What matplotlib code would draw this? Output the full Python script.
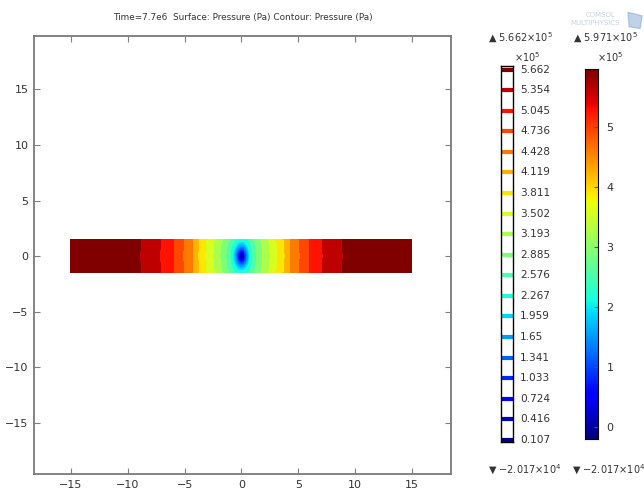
import numpy as np
import matplotlib.pyplot as plt
import matplotlib.colors as mcolors
from matplotlib.patches import Polygon

# pressure profile along the strip, distance from the well (m) -> pressure (Pa)
dist = [0.0, 0.12, 0.25, 0.4, 0.55, 0.8, 1.0, 1.36, 1.89, 2.51, 3.21, 3.83,
        4.35, 5.15, 6.02, 7.17, 8.93, 11.5, 15.0]
pres = [-2.017e4, 0.3e5, 0.75e5, 1.25e5, 1.65e5, 2.267e5, 2.576e5, 2.885e5,
        3.193e5, 3.502e5, 3.811e5, 4.119e5, 4.428e5, 4.736e5, 5.045e5,
        5.354e5, 5.662e5, 5.88e5, 5.971e5]

levels = [0.107, 0.416, 0.724, 1.033, 1.341, 1.65, 1.959, 2.267, 2.576, 2.885,
          3.193, 3.502, 3.811, 4.119, 4.428, 4.736, 5.045, 5.354, 5.662]
level_labels = ["0.107", "0.416", "0.724", "1.033", "1.341", "1.65", "1.959",
                "2.267", "2.576", "2.885", "3.193", "3.502", "3.811", "4.119",
                "4.428", "4.736", "5.045", "5.354", "5.662"]

pmin = -2.017e4
pmax = 5.971e5
ymult = 0.56   # anisotropy of the drawdown around the well

x = np.linspace(-15, 15, 1201)
y = np.linspace(-1.5, 1.5, 121)
X, Y = np.meshgrid(x, y)
R = np.sqrt(X**2 + (Y * ymult)**2)
P = np.interp(R, dist, pres)

cmap = plt.get_cmap('jet')
snorm = mcolors.Normalize(vmin=pmin, vmax=pmax)                    # surface
cnorm = mcolors.Normalize(vmin=levels[0] * 1e5, vmax=levels[-1] * 1e5)  # contours
grey = '#333333'

fig = plt.figure(figsize=(6.44, 4.93), dpi=100)
ax = fig.add_axes([0.0528, 0.0385, 0.6475, 0.8884])

# banded field, each band takes the colour of its lower contour level
lev_pa = [pmin] + [v * 1e5 for v in levels] + [pmax]
band_cols = [cmap(cnorm(levels[0] * 1e5))] + [cmap(cnorm(v * 1e5)) for v in levels]
ax.contourf(X, Y, P, levels=lev_pa, colors=band_cols)
# smooth drawdown cone right at the well
inner = np.ma.masked_where(P > levels[7] * 1e5, P)
ax.pcolormesh(X, Y, inner, cmap=cmap, norm=snorm, shading='auto')

ax.set_xlim(-18.25, 18.43)
ax.set_ylim(-19.6, 19.8)
ax.set_xticks([-15, -10, -5, 0, 5, 10, 15])
ax.set_yticks([-15, -10, -5, 0, 5, 10, 15])
ax.set_xticklabels(['\u221215', '\u221210', '\u22125', '0', '5', '10', '15'])
ax.set_yticklabels(['\u221215', '\u221210', '\u22125', '0', '5', '10', '15'])
ax.tick_params(direction='in', top=True, right=True, length=4, color='#808080',
               labelsize=8, labelcolor=grey, pad=4)
for s in ax.spines.values():
    s.set_color('#7a7a7a')
    s.set_linewidth(1.3)

fig.text(0.3765, 0.9655, "Time=7.7e6  Surface: Pressure (Pa) Contour: Pressure (Pa)",
         ha='center', va='center', fontsize=6.4, color=grey)

# contour level legend
lax = fig.add_axes([0.778, 0.1034, 0.0186, 0.7627])
for i, v in enumerate(levels):
    lax.plot([0, 1], [i, i], color=cmap(cnorm(v * 1e5)), lw=3, solid_capstyle='butt')
    lax.text(1.6, i, level_labels[i], ha='left', va='center', fontsize=7.6, color=grey)
lax.set_xlim(0, 1)
lax.set_ylim(-0.1, 18.17)
lax.set_xticks([])
lax.set_yticks([])
for s in lax.spines.values():
    s.set_color('black')
    s.set_linewidth(1.0)

# surface colour bar
cax = fig.add_axes([0.9084, 0.1095, 0.0202, 0.7505])
grad = np.linspace(pmin, pmax, 256).reshape(-1, 1) / 1e5
cax.imshow(grad, aspect='auto', origin='lower', cmap=cmap,
           extent=(0, 1, pmin / 1e5, pmax / 1e5))
cax.set_xticks([])
cax.yaxis.tick_right()
cax.set_yticks([0, 1, 2, 3, 4, 5])
cax.tick_params(axis='y', direction='in', length=3, color='#555555',
                labelsize=8, labelcolor=grey, pad=6)
for s in cax.spines.values():
    s.set_color('black')
    s.set_linewidth(0.8)

# range markers and multipliers
fig.text(0.808, 0.923, "\u25b2 5.662\u00d710$^{5}$", ha='center', va='center', fontsize=7, color=grey)
fig.text(0.940, 0.923, "\u25b2 5.971\u00d710$^{5}$", ha='center', va='center', fontsize=7, color=grey)
fig.text(0.818, 0.884, "\u00d710$^{5}$", ha='center', va='center', fontsize=7, color=grey)
fig.text(0.947, 0.884, "\u00d710$^{5}$", ha='center', va='center', fontsize=7, color=grey)
fig.text(0.814, 0.046, "\u25bc \u22122.017\u00d710$^{4}$", ha='center', va='center', fontsize=7, color=grey)
fig.text(0.945, 0.046, "\u25bc \u22122.017\u00d710$^{4}$", ha='center', va='center', fontsize=7, color=grey)

# faint logo
fig.text(0.955, 0.969, "COMSOL", ha='right', va='center', fontsize=5,
         color='#a9c0d2', alpha=0.7)
fig.text(0.962, 0.953, "MULTIPHYSICS", ha='right', va='center', fontsize=5,
         color='#a9c0d2', alpha=0.7)
fig.patches.append(Polygon([[0.975, 0.975], [0.997, 0.968], [0.994, 0.942], [0.977, 0.946]],
                           closed=True, transform=fig.transFigure,
                           color='#7fa8d4', alpha=0.5))

fig.savefig('out.png', dpi=100)
